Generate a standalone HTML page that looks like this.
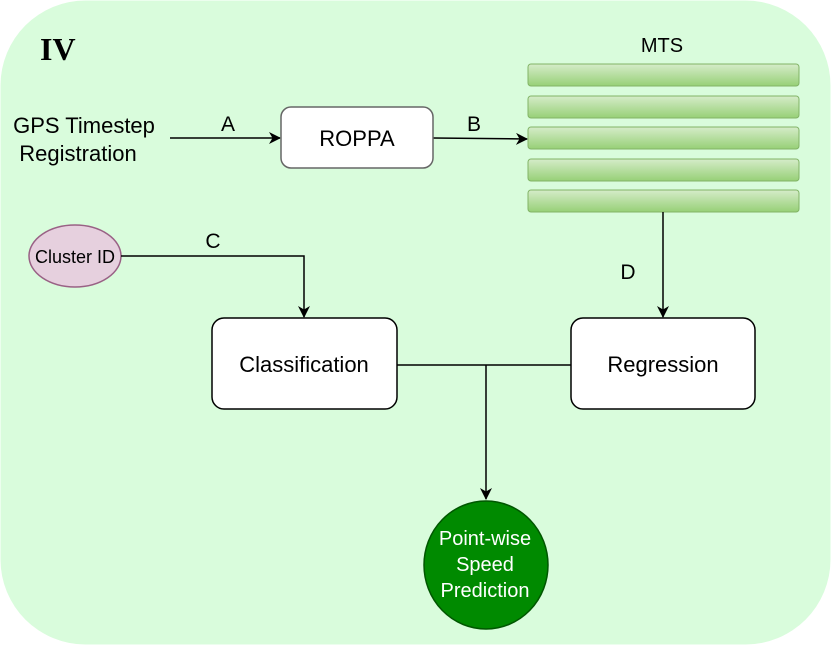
<!DOCTYPE html>
<html><head><meta charset="utf-8"><style>
html,body{margin:0;padding:0;background:#fff;}
svg{display:block;font-family:"Liberation Sans",sans-serif;}
</style></head><body>
<svg width="831" height="645" viewBox="0 0 831 645" xmlns="http://www.w3.org/2000/svg">
<defs>
<linearGradient id="g" x1="0" y1="0" x2="0" y2="1">
<stop offset="0" stop-color="#d5ecc9"/><stop offset="1" stop-color="#97d077"/>
</linearGradient>
<marker id="ar" markerWidth="12" markerHeight="12" refX="11" refY="6" orient="auto" markerUnits="userSpaceOnUse">
<path d="M0,0 L12,6 L0,12 L3.5,6 Z" fill="#000"/>
</marker>
</defs>
<rect x="0.5" y="0.5" width="830" height="644" rx="85" fill="#d9fcdc"/>
<text x="40" y="60" font-family="Liberation Serif,serif" font-weight="bold" font-size="32">IV</text>
<text x="662" y="52" font-size="20" text-anchor="middle">MTS</text>
<g fill="url(#g)" stroke="#82b366" stroke-width="1">
<rect x="528" y="64" width="271" height="22" rx="3"/>
<rect x="528" y="96" width="271" height="22" rx="3"/>
<rect x="528" y="127" width="271" height="22" rx="3"/>
<rect x="528" y="159" width="271" height="22" rx="3"/>
<rect x="528" y="190" width="271" height="22" rx="3"/>
</g>
<text x="84" y="133" font-size="22" text-anchor="middle">GPS Timestep</text>
<text x="78" y="161" font-size="22" text-anchor="middle">Registration</text>
<text x="228" y="131" font-size="21" text-anchor="middle">A</text>
<text x="474" y="131" font-size="21" text-anchor="middle">B</text>
<line x1="170" y1="138" x2="280" y2="138" stroke="#000" stroke-width="1.5" marker-end="url(#ar)"/>
<line x1="433" y1="138" x2="527" y2="139" stroke="#000" stroke-width="1.5" marker-end="url(#ar)"/>
<rect x="281" y="107" width="152" height="61" rx="10" fill="#fff" stroke="#666" stroke-width="1.5"/>
<text x="357" y="146" font-size="22" text-anchor="middle">ROPPA</text>
<ellipse cx="75" cy="256" rx="46" ry="31" fill="#e6d0de" stroke="#996185" stroke-width="1.5"/>
<text x="75" y="263" font-size="18" text-anchor="middle">Cluster ID</text>
<text x="213" y="248" font-size="21" text-anchor="middle">C</text>
<polyline points="121,256 304,256 304,317" fill="none" stroke="#000" stroke-width="1.5" marker-end="url(#ar)"/>
<text x="628" y="279" font-size="21" text-anchor="middle">D</text>
<line x1="663" y1="212" x2="663" y2="317" stroke="#000" stroke-width="1.5" marker-end="url(#ar)"/>
<line x1="397" y1="365" x2="571" y2="365" stroke="#000" stroke-width="1.5"/>
<line x1="486" y1="365" x2="486" y2="499" stroke="#000" stroke-width="1.5" marker-end="url(#ar)"/>
<rect x="212" y="318" width="185" height="91" rx="12" fill="#fff" stroke="#000" stroke-width="1.5"/>
<text x="304" y="372" font-size="22" text-anchor="middle">Classification</text>
<rect x="571" y="318" width="184" height="91" rx="12" fill="#fff" stroke="#000" stroke-width="1.5"/>
<text x="663" y="372" font-size="22" text-anchor="middle">Regression</text>
<ellipse cx="486" cy="565" rx="62" ry="64" fill="#008a00" stroke="#005700" stroke-width="1.5"/>
<g fill="#fff" font-size="20" text-anchor="middle">
<text x="485" y="545">Point-wise</text>
<text x="485" y="571">Speed</text>
<text x="485" y="597">Prediction</text>
</g>
</svg>
</body></html>
